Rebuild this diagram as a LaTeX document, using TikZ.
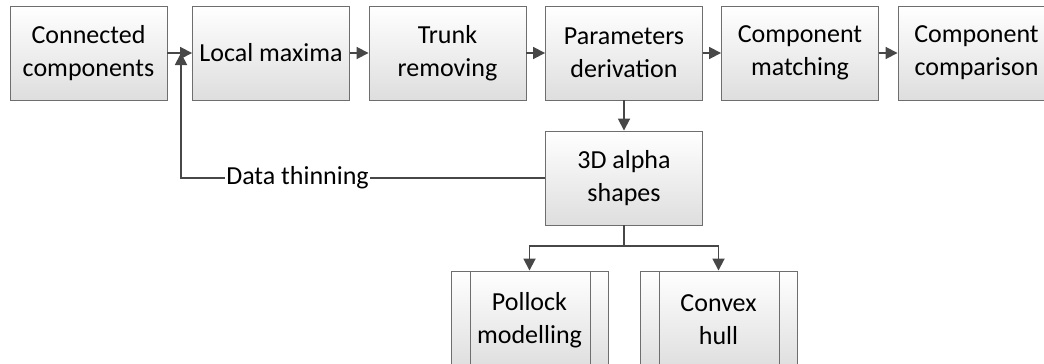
\documentclass[tikz,border=0pt]{standalone}
\usepackage{fontspec}
\setmainfont{Carlito}
\usetikzlibrary{arrows.meta}
\definecolor{boxedge}{HTML}{6E6E6E}
\definecolor{flowline}{HTML}{474747}
\begin{document}
\begin{tikzpicture}[
			x=1pt, y=-1pt,
			stepbox/.style={rectangle, draw=boxedge, line width=0.9pt, top color=white, bottom color=black!13, minimum width=157pt, minimum height=94pt, align=center, font=\fontsize{26}{33}\selectfont, inner sep=2pt},
			subbox/.style={stepbox, minimum height=98pt, path picture={
				\draw[boxedge, line width=0.9pt] ([xshift=19pt]path picture bounding box.north west) -- ([xshift=19pt]path picture bounding box.south west);
				\draw[boxedge, line width=0.9pt] ([xshift=-18pt]path picture bounding box.north east) -- ([xshift=-18pt]path picture bounding box.south east);}},
			flow/.style={draw=flowline, line width=1.8pt, -{Triangle[length=12pt,width=12pt]}},
			]
			\useasboundingbox (0,0) rectangle (1044,364);
			\clip (0,0) rectangle (1044,364);
			\node[stepbox] at (88.5,53) (connected) {Connected\\components};
			\node[stepbox] at (271,53) (maxima) {Local maxima};
			\node[stepbox] at (447.5,53) (trunk) {Trunk\\removing};
			\node[stepbox] at (624,53) (params) {Parameters\\derivation};
			\node[stepbox] at (800,53) (matching) {Component\\matching};
			\node[stepbox] at (976.5,53) (comparison) {Component\\comparison};
			\node[stepbox] at (624,178) (alpha) {3D alpha\\shapes};
			\node[subbox] at (529.5,320) (pollock) {Pollock\\modelling};
			\node[subbox] at (718.5,320) (hull) {Convex\\hull};
			\coordinate (loopup) at (181,53);
			\coordinate (split) at (624,246);
			\draw[flow] (connected) -- (maxima);
			\draw[flow] (maxima) -- (trunk);
			\draw[flow] (trunk) -- (params);
			\draw[flow] (params) -- (matching);
			\draw[flow] (matching) -- (comparison);
			\draw[flow] (params) -- (alpha);
			\draw[flow] (alpha.west) -| node[pos=0.34, fill=white, inner sep=1pt, font=\fontsize{26}{33}\selectfont] (thinning) {Data thinning} (loopup);
			\draw[flow, -] (alpha) -- (split);
			\draw[flow] (split) -| (pollock);
			\draw[flow] (split) -| (hull);
		\end{tikzpicture}
\end{document}
